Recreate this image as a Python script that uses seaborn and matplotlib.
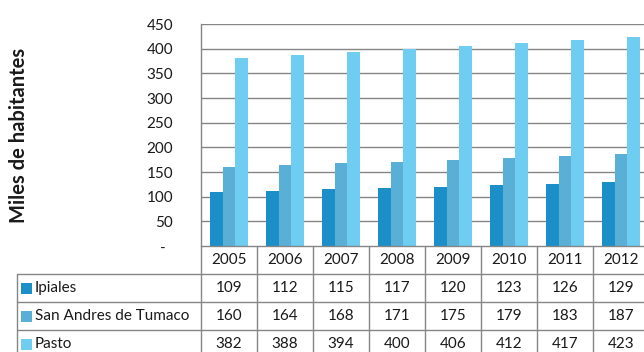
import matplotlib
matplotlib.use("Agg")
import matplotlib.pyplot as plt
import matplotlib.transforms as mtransforms
from matplotlib.patches import Rectangle
import seaborn as sns
import pandas as pd

years = ["2005", "2006", "2007", "2008", "2009", "2010", "2011", "2012"]
cities = ["Ipiales", "San Andres de Tumaco", "Pasto"]
ipiales = [109, 112, 115, 117, 120, 123, 126, 129]
tumaco = [160, 164, 168, 171, 175, 179, 183, 187]
pasto = [382, 388, 394, 400, 406, 412, 417, 423]
series = [ipiales, tumaco, pasto]
colors = ["#1C8FC9", "#5AAFD6", "#6FCDF2"]
yticks = [0, 50, 100, 150, 200, 250, 300, 350, 400, 450]
ytick_labels = ["-  ", "50", "100", "150", "200", "250", "300", "350", "400", "450"]
ylabel = "Miles de habitantes"

rows = []
for c, vals in zip(cities, series):
    for y, v in zip(years, vals):
        rows.append({"year": y, "city": c, "value": v})
df = pd.DataFrame(rows)

sns.set_style("white")
plt.rcParams["font.family"] = ["Lato", "DejaVu Sans"]
TXT = "#1a1a1a"
GRID = "#858585"

W, H = 644, 352
fig = plt.figure(figsize=(W / 100, H / 100), dpi=100)
fig.patch.set_facecolor("white")
L, R, T, B = 201, 649, 24, 246
ax = fig.add_axes([L / W, (H - B) / H, (R - L) / W, (B - T) / H])

sns.barplot(data=df, x="year", y="value", hue="city", order=years,
            hue_order=cities, palette=colors, width=0.68, saturation=1,
            linewidth=0, legend=False, ax=ax, zorder=3)

ax.set_xlim(-0.5, len(years) - 0.5)
ax.set_ylim(0, 450)
ax.set_yticks(yticks)
ax.set_yticklabels(ytick_labels, fontsize=11, color=TXT)
ax.tick_params(axis="y", length=0, pad=20)
ax.set_xticks([])
ax.set_xlabel("")
ax.set_ylabel(ylabel, fontsize=14.5, fontweight="bold", color=TXT)
ax.yaxis.set_label_coords((29 - L) / (R - L), 0.5)
for t in yticks[1:]:
    ax.axhline(t, color=GRID, lw=1.0, zorder=1)
for s in ["top", "right", "bottom"]:
    ax.spines[s].set_visible(False)
ax.spines["left"].set_color(GRID)
ax.spines["left"].set_linewidth(1.0)

# data table below the plot
row_edges_px = [246, 274, 302, 330, 358]
row_y = [(B - p) / (B - T) for p in row_edges_px]
blend = mtransforms.blended_transform_factory(ax.transData, ax.transAxes)
label_left = (17 - L) / (R - L)
lk = dict(color=GRID, lw=1.0, clip_on=False, zorder=5)

# horizontal lines
ax.plot([-0.5, len(years) - 0.5], [row_y[0]] * 2, transform=blend, **lk)
for yy in row_y[1:4]:
    ax.plot([label_left, 1.2], [yy, yy], transform=ax.transAxes, **lk)
# vertical lines
for i in range(len(years) + 1):
    ax.plot([i - 0.5, i - 0.5], [row_y[0], row_y[4]], transform=blend, **lk)
ax.plot([label_left, label_left], [row_y[1], row_y[4]], transform=ax.transAxes, **lk)

# header
for i, y in enumerate(years):
    ax.text(i, (row_y[0] + row_y[1]) / 2, y, transform=blend, ha="center",
            va="center", fontsize=11, color=TXT, clip_on=False)
# rows
for r, (c, vals, col) in enumerate(zip(cities, series, colors)):
    yc = (row_y[r + 1] + row_y[r + 2]) / 2
    for i, v in enumerate(vals):
        ax.text(i, yc, str(v), transform=blend, ha="center", va="center",
                fontsize=11, color=TXT, clip_on=False)
    sq_x = (21 - L) / (R - L)
    sq_w = 11 / (R - L)
    sq_h = 11 / (B - T)
    ax.add_patch(Rectangle((sq_x, yc - sq_h / 2), sq_w, sq_h, transform=ax.transAxes,
                           facecolor=col, edgecolor="none", clip_on=False))
    ax.text((35 - L) / (R - L), yc, c, transform=ax.transAxes, ha="left",
            va="center", fontsize=11, color=TXT, clip_on=False)

fig.savefig("out.png", dpi=100)
